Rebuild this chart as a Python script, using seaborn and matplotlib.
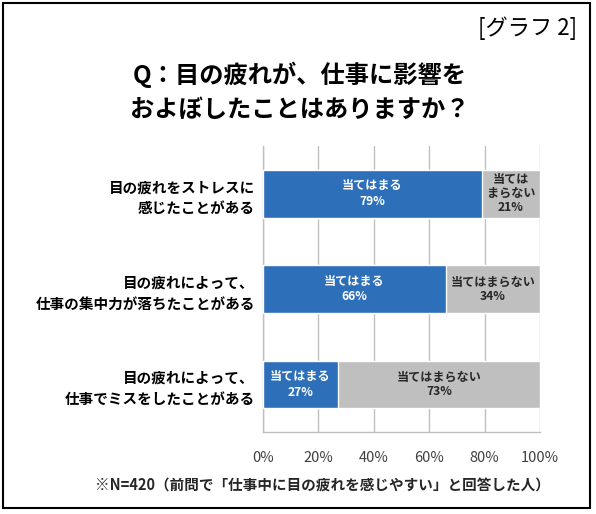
import matplotlib
matplotlib.use("Agg")
import matplotlib.pyplot as plt
import seaborn as sns
import pandas as pd
from matplotlib.patches import Rectangle

categories = ["目の疲れをストレスに\n感じたことがある",
              "目の疲れによって、\n仕事の集中力が落ちたことがある",
              "目の疲れによって、\n仕事でミスをしたことがある"]
yes_values = [79, 66, 27]
no_values = [21, 34, 73]
yes_label = "当てはまる"
no_labels = ["当ては\nまらない", "当てはまらない", "当てはまらない"]
tick_values = [0, 20, 40, 60, 80, 100]
tick_labels = ["0%", "20%", "40%", "60%", "80%", "100%"]
title = "Q：目の疲れが、仕事に影響を\nおよぼしたことはありますか？"
tag = "[グラフ 2]"
note = "※N=420（前問で「仕事中に目の疲れを感じやすい」と回答した人）"

sns.set_theme(style="white")
plt.rcParams['font.family'] = ['Noto Sans CJK JP', 'DejaVu Sans']

BLUE = "#2E6FBA"
GRAY = "#BFBFBF"
GRID = "#BFBFBF"

df = pd.DataFrame({"cat": categories, "yes": yes_values, "no": no_values})
df["total"] = df["yes"] + df["no"]

fig = plt.figure(figsize=(5.96, 5.14), dpi=100)
ax = fig.add_axes([263/596, 1-432/514, (540-263)/596, (432-146)/514])

sns.barplot(data=df, y="cat", x="total", color=GRAY, orient="h", width=0.5,
            ax=ax, saturation=1, zorder=2)
sns.barplot(data=df, y="cat", x="yes", color=BLUE, orient="h", width=0.5,
            ax=ax, saturation=1, zorder=3)

ax.set_xlim(0, 100)
ax.set_ylim(2.5, -0.5)
ax.set_xticks(tick_values)
ax.set_xticklabels(tick_labels, fontsize=10.5, color="#404040")
ax.set_yticks(range(len(categories)))
ax.set_yticklabels(categories, fontsize=10.5, fontweight="bold", color="black",
                   linespacing=1.38)
ax.tick_params(axis="x", length=0, pad=14)
ax.tick_params(axis="y", length=0, pad=6)
ax.set_xlabel("")
ax.set_ylabel("")
ax.xaxis.grid(True, color=GRID, linewidth=1, zorder=0)
ax.set_axisbelow(True)
for s in ["top", "right"]:
    ax.spines[s].set_visible(False)
for s in ["left", "bottom"]:
    ax.spines[s].set_color(GRID)
    ax.spines[s].set_linewidth(1)

for i, (y, n) in enumerate(zip(yes_values, no_values)):
    ax.text(y / 2, i, f"{yes_label}\n{y}%", ha="center", va="center",
            color="white", fontsize=8.7, fontweight="bold", zorder=5,
            linespacing=1.25)
    ax.text(y + n / 2, i, f"{no_labels[i]}\n{n}%", ha="center", va="center",
            color="#262626", fontsize=8.7, fontweight="bold", zorder=5,
            linespacing=1.1)

fig.text(300/596, 1-92/514, title, ha="center", va="center", fontsize=17.5,
         fontweight="bold", color="black", linespacing=1.55)
fig.text(577/596, 1-28/514, tag, ha="right", va="center", fontsize=16,
         color="black")
fig.text(322/596, 1-486/514, note, ha="center", va="center", fontsize=10.5,
         fontweight="bold", color="#262626")

fig.patches.append(Rectangle((3/596, 6/514), (590-3)/596, (511-6)/514,
                             transform=fig.transFigure, fill=False,
                             edgecolor="black", linewidth=1.5))

fig.savefig("out.png", dpi=100)
